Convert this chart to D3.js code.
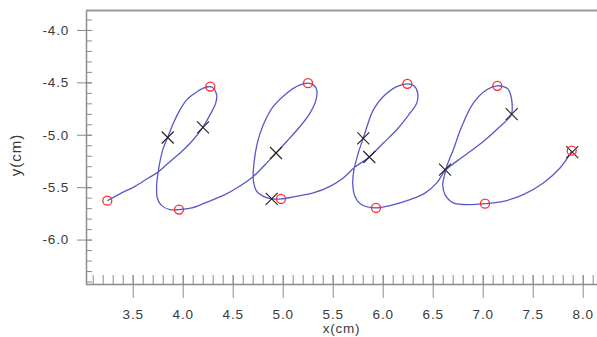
<!DOCTYPE html>
<html>
<head>
<meta charset="utf-8">
<script src="https://cdn.jsdelivr.net/npm/d3@7"></script>
<style>
  html, body { margin: 0; padding: 0; background: #fff; }
  svg { display: block; }
  text { font-family: Arial, "Liberation Sans", sans-serif; }
</style>
</head>
<body>
<script>
// ---- data (cm) ----
const pathX = [3.246,3.390,3.523,3.656,3.750,3.856,3.990,4.090,4.196,4.273,4.330,4.340,4.306,4.276,4.206,4.123,4.040,3.973,3.906,3.850,3.806,3.773,3.756,3.740,3.746,3.790,3.873,3.963,4.090,4.223,4.423,
  4.540,4.706,4.823,4.933,5.040,5.173,5.273,5.333,5.340,5.306,5.253,5.173,5.040,4.906,4.806,4.746,4.713,4.706,4.740,4.806,4.890,4.983,5.106,5.306,5.473,
  5.606,5.723,5.866,6.006,6.140,6.273,6.340,6.350,6.313,6.246,6.140,6.006,5.906,5.806,5.756,5.713,5.700,5.723,5.790,5.933,6.073,6.273,6.423,6.543,
  6.623,6.806,7.006,7.173,7.285,7.295,7.280,7.250,7.206,7.146,7.040,6.906,6.790,6.706,6.643,6.608,6.600,6.623,6.706,6.873,7.023,7.206,7.406,7.606,7.773,7.890];
const pathY = [-5.629,-5.555,-5.492,-5.412,-5.359,-5.270,-5.159,-5.064,-4.936,-4.810,-4.698,-4.619,-4.555,-4.540,-4.555,-4.603,-4.667,-4.762,-4.889,-5.026,-5.127,-5.254,-5.350,-5.476,-5.603,-5.676,-5.714,-5.714,-5.698,-5.650,-5.571,
  -5.508,-5.397,-5.286,-5.174,-5.064,-4.921,-4.793,-4.667,-4.571,-4.524,-4.508,-4.524,-4.603,-4.730,-4.905,-5.079,-5.270,-5.429,-5.540,-5.588,-5.612,-5.612,-5.593,-5.555,-5.492,
  -5.412,-5.308,-5.212,-5.079,-4.952,-4.793,-4.698,-4.603,-4.533,-4.514,-4.540,-4.635,-4.762,-5.031,-5.174,-5.333,-5.460,-5.588,-5.667,-5.698,-5.676,-5.619,-5.557,-5.457,
  -5.343,-5.207,-5.064,-4.921,-4.810,-4.720,-4.620,-4.560,-4.540,-4.533,-4.571,-4.698,-4.921,-5.143,-5.295,-5.429,-5.480,-5.571,-5.650,-5.667,-5.657,-5.635,-5.571,-5.460,-5.317,-5.159];
const circleX = [3.246,3.963,4.276,4.983,5.253,5.933,6.246,7.023,7.146,7.890];
const circleY = [-5.629,-5.714,-4.540,-5.612,-4.508,-5.698,-4.514,-5.657,-4.533,-5.152];
const crossX = [3.850,4.203,4.890,4.933,5.806,5.866,6.623,7.290,7.896];
const crossY = [-5.026,-4.929,-5.612,-5.174,-5.034,-5.212,-5.333,-4.803,-5.165];
const xTickLabels = ["3.5","4.0","4.5","5.0","5.5","6.0","6.5","7.0","7.5","8.0"];
const yTickLabels = ["-4.0","-4.5","-5.0","-5.5","-6.0"];
const xLabel = "x(cm)";
const yLabel = "y(cm)";

// ---- layout ----
const W = 597, H = 337;
const L = 86, R = 597, T = 10, B = 284;
const x = d3.scaleLinear().domain([3.033, 8.143]).range([L, R]);
const y = d3.scaleLinear().domain([-6.4238, -3.8095]).range([B, T]);

const svg = d3.select("body").append("svg").attr("width", W).attr("height", H);

const axisColor = "#8c8c8c";
const textColor = "#3a3a3a";

// minor / major ticks
const xMinor = d3.range(31, 82).map(v => v / 10).filter(v => x(v) > L + 2 && x(v) < R);
const yMinor = d3.range(39, 65).map(v => -v / 10).filter(v => y(v) < B - 1 && y(v) > T + 2);
const xMajor = xTickLabels.map(Number);
const yMajor = yTickLabels.map(Number);

// x axis (bottom)
const xAxisMinor = d3.axisBottom(x).tickValues(xMinor).tickSizeInner(-9).tickSizeOuter(0).tickFormat("");
const gxm = svg.append("g").attr("transform", `translate(0,${B})`).call(xAxisMinor);
gxm.select(".domain").remove();
gxm.selectAll("line").attr("stroke", axisColor);

const xAxisMajor = d3.axisBottom(x).tickValues(xMajor).tickSizeInner(14).tickSizeOuter(0)
  .tickFormat((d, i) => xTickLabels[i]).tickPadding(11);
const gx = svg.append("g").attr("transform", `translate(0,${B})`).call(xAxisMajor);
gx.select(".domain").remove();
gx.selectAll("line").attr("stroke", axisColor).attr("y1", -9);
gx.selectAll("text").attr("fill", textColor).style("font-size", "13.5px").style("letter-spacing", "0.8px")
  .style("font-family", "Arial, 'Liberation Sans', sans-serif");

// y axis (left)
const yAxisMinor = d3.axisLeft(y).tickValues(yMinor).tickSizeInner(-6).tickSizeOuter(0).tickFormat("");
const gym = svg.append("g").attr("transform", `translate(${L},0)`).call(yAxisMinor);
gym.select(".domain").remove();
gym.selectAll("line").attr("stroke", axisColor);

const yAxisMajor = d3.axisLeft(y).tickValues(yMajor).tickSizeInner(9).tickSizeOuter(0)
  .tickFormat((d, i) => yTickLabels[i]).tickPadding(8);
const gy = svg.append("g").attr("transform", `translate(${L},0)`).call(yAxisMajor);
gy.select(".domain").remove();
gy.selectAll("line").attr("stroke", axisColor).attr("x1", 6);
gy.selectAll("text").attr("fill", textColor).style("font-size", "13.5px").style("letter-spacing", "0.8px")
  .style("font-family", "Arial, 'Liberation Sans', sans-serif");

// frame lines
svg.append("line").attr("x1", L).attr("x2", R).attr("y1", B + 0.5).attr("y2", B + 0.5)
  .attr("stroke", axisColor).attr("stroke-width", 1.5);
svg.append("line").attr("x1", L + 0.5).attr("x2", L + 0.5).attr("y1", T).attr("y2", B + 1)
  .attr("stroke", axisColor).attr("stroke-width", 1.5);
svg.append("line").attr("x1", L).attr("x2", R).attr("y1", T + 0.5).attr("y2", T + 0.5)
  .attr("stroke", "#9a9a9a").attr("stroke-width", 1.8);

// axis labels
svg.append("text").attr("x", (L + R) / 2).attr("y", 333).attr("text-anchor", "middle")
  .attr("fill", textColor).style("font-size", "13.5px").style("letter-spacing", "0.8px").text(xLabel);
svg.append("text").attr("transform", `translate(21,155) rotate(-90)`).attr("text-anchor", "middle")
  .attr("fill", textColor).style("font-size", "15px").style("letter-spacing", "1px").text(yLabel);

// trajectory
const pts = pathX.map((v, i) => [v, pathY[i]]);
const line = d3.line().x(d => x(d[0])).y(d => y(d[1])).curve(d3.curveCatmullRom.alpha(0.5));
svg.append("path").attr("d", line(pts)).attr("fill", "none")
  .attr("stroke", "#5858cc").attr("stroke-width", 1.3);

// crosses
const cs = 6;
const crosses = svg.append("g");
crossX.forEach((v, i) => {
  const cx = x(v), cy = y(crossY[i]);
  crosses.append("path")
    .attr("d", `M${cx - cs},${cy - cs}L${cx + cs},${cy + cs}M${cx - cs},${cy + cs}L${cx + cs},${cy - cs}`)
    .attr("stroke", "#222").attr("stroke-width", 1.1).attr("fill", "none");
});

// circles
svg.append("g").selectAll("circle").data(circleX).join("circle")
  .attr("cx", d => x(d)).attr("cy", (d, i) => y(circleY[i])).attr("r", 4.5)
  .attr("fill", "none").attr("stroke", "#ff2a2a").attr("stroke-width", 1.3);
</script>
</body>
</html>
